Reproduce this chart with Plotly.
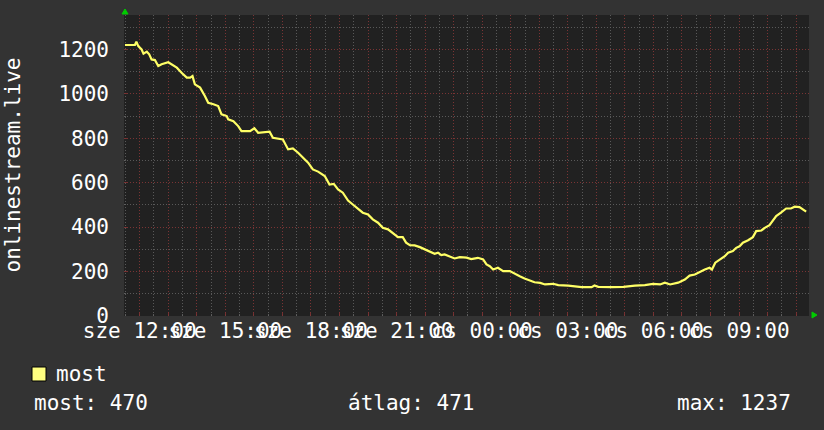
import plotly.graph_objects as go
from datetime import datetime, timedelta

# ---------------- data ----------------
DAY1 = "2024-01-10"   # szerda (sze)
DAY2 = "2024-01-11"   # csütörtök (cs)

times_day1 = ["11:29", "11:50", "11:53", "11:57", "12:04", "12:08", "12:15", "12:20", "12:25", "12:32",
              "12:39", "12:46", "13:00", "13:07", "13:18", "13:28", "13:39", "13:46", "13:51", "13:56",
              "14:07", "14:17", "14:24", "14:35", "14:45", "14:52", "15:03", "15:06", "15:17", "15:27",
              "15:34", "15:52", "16:01", "16:09", "16:23", "16:33", "16:40", "16:51", "17:01", "17:12",
              "17:22", "17:33", "17:43", "17:54", "18:04", "18:15", "18:29", "18:39", "18:48", "18:57",
              "19:07", "19:18", "19:28", "19:39", "19:49", "20:00", "20:10", "20:21", "20:31", "20:42",
              "20:52", "21:03", "21:13", "21:20", "21:28", "21:38", "21:49", "21:59", "22:10", "22:20",
              "22:27", "22:34", "22:41", "22:52", "23:02", "23:13", "23:27", "23:37", "23:51"]
values_day1 = [1220, 1220, 1235, 1215, 1200, 1181, 1190, 1178, 1155, 1152,
               1125, 1133, 1142, 1133, 1118, 1095, 1073, 1073, 1080, 1043,
               1028, 990, 960, 953, 945, 908, 900, 885, 877, 855,
               832, 832, 845, 825, 828, 830, 802, 800, 795, 750,
               754, 735, 715, 690, 660, 650, 630, 592, 595, 570,
               555, 520, 502, 484, 465, 457, 435, 420, 397, 390,
               375, 355, 355, 330, 319, 318, 310, 300, 287, 280,
               285, 274, 277, 267, 259, 265, 263, 256, 262]

times_day2 = ["00:02", "00:09", "00:16", "00:23", "00:33", "00:44", "00:58", "01:08", "01:19", "01:29",
              "01:40", "01:50", "02:02", "02:12", "02:29", "02:40", "03:01", "03:15", "03:29", "03:50",
              "03:56", "04:04", "04:11", "04:32", "04:57", "05:07", "05:21", "05:42", "05:59", "06:14",
              "06:24", "06:35", "06:52", "07:06", "07:16", "07:27", "07:37", "07:48", "07:58", "08:03",
              "08:10", "08:19", "08:30", "08:37", "08:47", "08:54", "09:01", "09:08", "09:19", "09:29",
              "09:36", "09:47", "09:54", "10:04", "10:11", "10:18", "10:28", "10:39", "10:49", "10:57",
              "11:07", "11:14", "11:21"]
values_day2 = [255, 232, 224, 209, 217, 202, 202, 190, 179, 169,
               160, 152, 149, 142, 145, 139, 137, 134, 130, 130,
               137, 131, 130, 130, 131, 134, 137, 139, 145, 142,
               150, 142, 150, 164, 182, 187, 199, 209, 217, 209,
               240, 254, 269, 285, 292, 307, 314, 330, 341, 355,
               382, 385, 397, 409, 427, 450, 465, 484, 484, 492,
               490, 480, 470]

SERIES_NAME = "most"
Y_AXIS_TITLE = "onlinestream.live"
Y_TICKS = [0, 200, 400, 600, 800, 1000, 1200]
X_TICK_TEXT = ["sze 12:00", "sze 15:00", "sze 18:00", "sze 21:00",
               "cs 00:00", "cs 03:00", "cs 06:00", "cs 09:00"]
STAT_LABELS = ["most", "átlag", "max"]
STAT_VALUES = [470, 471, 1237]

# ---------------- build ----------------
x = [f"{DAY1} {t}" for t in times_day1] + [f"{DAY2} {t}" for t in times_day2]
y = values_day1 + values_day2

W, H = 824, 430
PL, PR, PT, PB = 124, 809, 15, 316   # plot area pixels
FONT = "DejaVu Sans Mono"
BG = "#333333"
PLOT_BG = "#212121"
MAJOR = "rgba(125,48,48,0.9)"
MINOR = "rgba(95,95,95,0.9)"
LINE = "#ffff66"

def px(xp):
    return (xp - PL) / (PR - PL)

def py(yp):
    return (PB - yp) / (PB - PT)

start = datetime(2024, 1, 10, 11, 27)
end = start + timedelta(hours=24)
hour_ticks = [datetime(2024, 1, 10, 12) + timedelta(hours=h) for h in range(24)]
labels = iter(X_TICK_TEXT)
hour_text = [next(labels) if t.hour % 3 == 0 else "" for t in hour_ticks]

fig = go.Figure()
fig.add_trace(go.Scatter(x=x, y=y, mode="lines", name=SERIES_NAME,
                         line=dict(color=LINE, width=2.2), showlegend=False))

fig.update_layout(
    width=W, height=H,
    margin=dict(l=PL, r=W - PR, t=PT, b=H - PB),
    paper_bgcolor=BG, plot_bgcolor=PLOT_BG,
    font=dict(family=FONT, size=21, color="#ffffff"),
    showlegend=False,
    xaxis=dict(
        type="date", range=[start, end],
        tickmode="array", tickvals=hour_ticks, ticktext=hour_text,
        tickangle=0, showgrid=True, gridcolor=MAJOR, griddash="1px,2px", gridwidth=1,
        ticks="inside", ticklen=3, tickcolor=MAJOR,
        minor=dict(dtick=30 * 60 * 1000, tick0="2024-01-10 12:00", showgrid=True,
                   gridcolor=MINOR, griddash="1px,2px", ticks="inside", ticklen=2, tickcolor=MINOR),
        zeroline=False, showline=False,
        tickfont=dict(family=FONT, size=21, color="#ffffff"),
        ticklabelstandoff=0,
    ),
    yaxis=dict(
        range=[0, 1355], tickmode="array", tickvals=Y_TICKS,
        showgrid=True, gridcolor=MAJOR, griddash="1px,2px", gridwidth=1,
        ticks="inside", ticklen=3, tickcolor=MAJOR,
        minor=dict(dtick=100, tick0=0, showgrid=True, gridcolor=MINOR, griddash="1px,2px",
                   ticks="inside", ticklen=2, tickcolor=MINOR),
        zeroline=False, showline=False,
        tickfont=dict(family=FONT, size=21, color="#ffffff"),
        ticklabelstandoff=14,
    ),
)

annotations = [
    dict(text=Y_AXIS_TITLE, x=px(12), y=0.5, xref="paper", yref="paper",
         textangle=-90, showarrow=False, xanchor="center", yanchor="middle",
         font=dict(family=FONT, size=21, color="#ffffff")),
    dict(text=SERIES_NAME, x=px(54), y=py(374), xref="paper", yref="paper",
         showarrow=False, xanchor="left", yanchor="middle",
         font=dict(family=FONT, size=21, color="#ffffff")),
]
stat_pos = [(px(32), "left"), (px(346), "left"), (px(793), "right")]
for (sx, anchor), lab, val in zip(stat_pos, STAT_LABELS, STAT_VALUES):
    annotations.append(dict(text=f"{lab}: {val}", x=sx, y=py(403), xref="paper", yref="paper",
                            showarrow=False, xanchor=anchor, yanchor="middle",
                            font=dict(family=FONT, size=21, color="#ffffff")))
fig.update_layout(annotations=annotations)

shapes = [
    # legend swatch
    dict(type="rect", xref="paper", yref="paper", x0=px(32), x1=px(46), y0=py(381), y1=py(367),
         fillcolor="#ffff80", line=dict(color="#000000", width=1)),
    # axis arrows
    dict(type="path", xref="paper", yref="paper", xsizemode="pixel", ysizemode="pixel",
         xanchor=0, yanchor=1, path="M -2,1 L 4,1 L 1,6 Z",
         fillcolor="#00cc00", line=dict(color="#00cc00", width=1)),
    dict(type="path", xref="paper", yref="paper", xsizemode="pixel", ysizemode="pixel",
         xanchor=1, yanchor=0, path="M 3,4 L 3,-2 L 8,1 Z",
         fillcolor="#00cc00", line=dict(color="#00cc00", width=1)),
]
fig.update_layout(shapes=shapes)

fig.write_html("out.html", config={"displayModeBar": False},
               post_script="document.body.style.margin='0';document.body.style.background='#333333';")
